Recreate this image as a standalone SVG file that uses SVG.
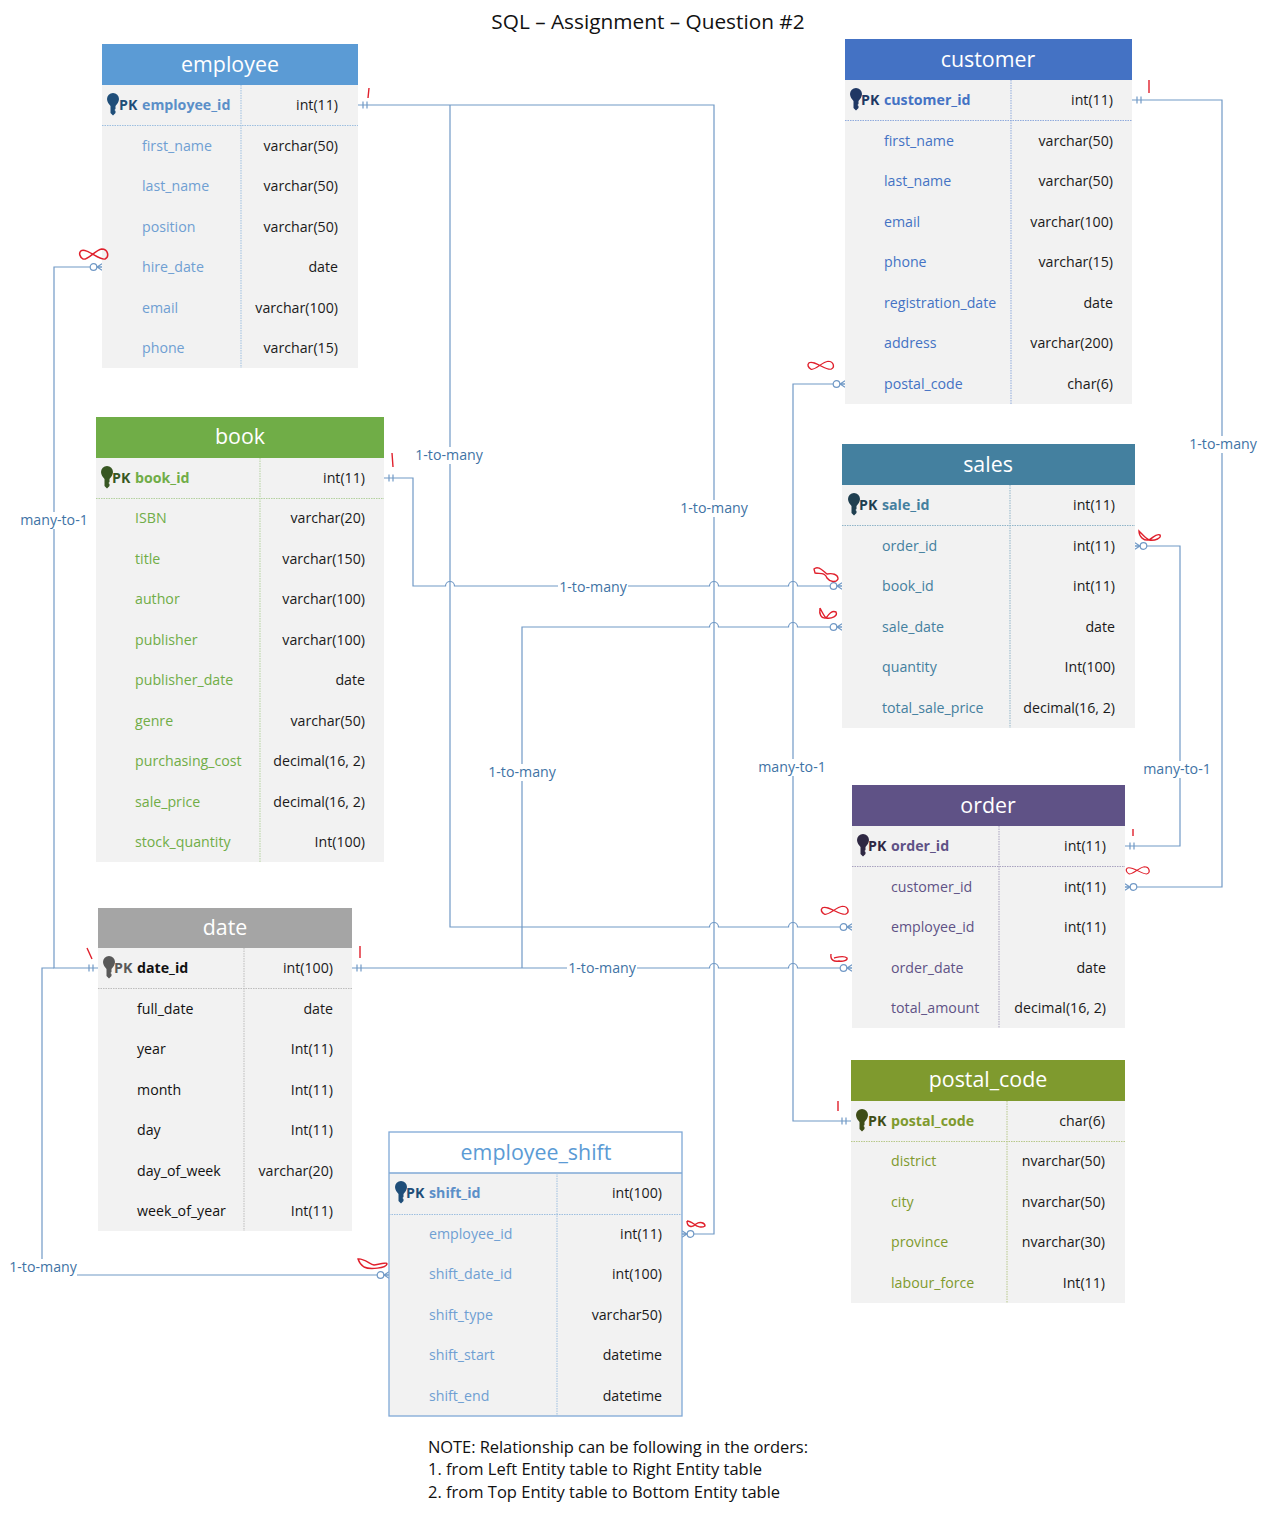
<svg xmlns="http://www.w3.org/2000/svg" xmlns:xlink="http://www.w3.org/1999/xlink" width="1265" height="1513" viewBox="0 0 1265 1513">
<style>
text{font-family:"Open Sans","Noto Sans","Liberation Sans",sans-serif;font-size:14.2px;fill:#1a1a1a}
.bg{fill:#f2f2f2}
.h{font-size:21.4px;fill:#fff;text-anchor:middle}
.t{text-anchor:end}
.b{font-weight:700}
.d{stroke-width:1;stroke-dasharray:1.5 1;fill:none}
.c{fill:none;stroke:#7199c6;stroke-width:1.2}
.lb{fill:#fff}
.lbl{fill:#3f73a5;font-size:14.2px;text-anchor:middle}
.r{fill:none;stroke:#e0202c;stroke-width:1.4;vector-effect:non-scaling-stroke}
.big{font-size:20.8px;fill:#111}
.note{font-size:16.5px;fill:#111}
#employee .n,#employee_shift .n{fill:#6f9fd2}
#employee .p,#employee_shift .p{fill:#5b8fc8}
#employee .k,#employee_shift .k{fill:#1f4e79}
#employee .d,#employee_shift .d{stroke:#9dbfe0}
#customer .n,#customer .p{fill:#4472c4}
#customer .k{fill:#203864}
#customer .d{stroke:#8faadc}
#sales .n,#sales .p{fill:#44809f}
#sales .k{fill:#1f3f50}
#sales .d{stroke:#8fb4c8}
#order .n,#order .p{fill:#5f5286}
#order .k{fill:#2f2843}
#order .d{stroke:#a8a2bf}
#postal_code .n,#postal_code .p{fill:#7f9a2e}
#postal_code .k{fill:#3f4d17}
#postal_code .d{stroke:#b8c88a}
#book .n,#book .p{fill:#70ad47}
#book .k{fill:#385723}
#book .d{stroke:#b3d19e}
#date .n,#date .p{fill:#111}
#date .k{fill:#595959}
#date .d{stroke:#bdbdbd}
</style>
<defs>
<path id="key" d="M-6-5A6 6 0 0 1 6-5C6-2 4 0 2.5 2V5L1.5 6L2.5 7V9L0 11.5L-2.5 9V2C-4 0-6-2-6-5Z"/>
<path id="inf" d="M-12-4C-7-8 5 6 10 4C14 2 13-6 7-6C1-5-6 6-10 4C-13 2-14-2-12-4Z"/>
<marker id="one" markerUnits="userSpaceOnUse" markerWidth="14" markerHeight="10" viewBox="0 0 14 10" refX="14" refY="5" orient="auto-start-reverse">
<path d="M9 1.5V8.500M5 1.500V8.500" fill="none" stroke="#7199c6" stroke-width="1.200"/>
</marker>
<marker id="crow" markerUnits="userSpaceOnUse" markerWidth="14" markerHeight="10" viewBox="0 0 14 10" refX="14" refY="5" orient="auto-start-reverse">
<path d="M14 1.800L9 5L14 8.200M9 5H14" fill="none" stroke="#7199c6" stroke-width="1.100"/>
<circle cx="5.500" cy="5" r="3.300" fill="#fff" stroke="#7199c6" stroke-width="1.200"/>
</marker>
</defs>
<rect width="1265" height="1513" fill="#fff"/>
<text class="big" x="648" y="29" text-anchor="middle">SQL – Assignment – Question #2</text>

<g id="connectors">
<path class="c" marker-start="url(#one)" marker-end="url(#crow)" d="M358 105H714V1234H682"/>
<path class="c" d="M450 105V927H709.500A4.500 4.500 0 0 1 718.500 927H788.500A4.500 4.500 0 0 1 797.500 927H852" marker-end="url(#crow)"/>
<path class="c" marker-start="url(#one)" marker-end="url(#crow)" d="M384 478H413V586H445.500A4.500 4.500 0 0 1 454.500 586H709.500A4.500 4.500 0 0 1 718.500 586H788.500A4.500 4.500 0 0 1 797.500 586H842"/>
<path class="c" marker-start="url(#one)" marker-end="url(#crow)" d="M352 968H709.500A4.500 4.500 0 0 1 718.500 968H788.500A4.500 4.500 0 0 1 797.500 968H852"/>
<path class="c" marker-end="url(#crow)" d="M522 968V627H709.500A4.500 4.500 0 0 1 718.500 627H788.500A4.500 4.500 0 0 1 797.500 627H842"/>
<path class="c" marker-start="url(#one)" marker-end="url(#crow)" d="M1132 100H1222V887H1125"/>
<path class="c" marker-start="url(#one)" marker-end="url(#crow)" d="M1125 846H1180V546H1135"/>
<path class="c" marker-start="url(#crow)" marker-end="url(#one)" d="M845 384H793V1121H851"/>
<path class="c" marker-start="url(#one)" marker-end="url(#crow)" d="M98 968H54V267H102"/>
<path class="c" marker-end="url(#crow)" d="M54 968H42V1275H389"/>
<rect class="lb" x="414" y="447" width="70" height="17"/>
<rect class="lb" x="679" y="500" width="70" height="17"/>
<rect class="lb" x="558" y="578" width="70" height="17"/>
<rect class="lb" x="487" y="764" width="70" height="17"/>
<rect class="lb" x="567" y="960" width="70" height="17"/>
<rect class="lb" x="757" y="759" width="70" height="17"/>
<rect class="lb" x="19" y="512" width="70" height="17"/>
<rect class="lb" x="1188" y="436" width="70" height="17"/>
<rect class="lb" x="1143" y="761" width="68" height="17"/>
<rect class="lb" x="8" y="1259" width="69" height="17"/>
<text class="lbl" x="449" y="460">1-to-many</text>
<text class="lbl" x="714" y="513">1-to-many</text>
<text class="lbl" x="593" y="592">1-to-many</text>
<text class="lbl" x="522" y="777">1-to-many</text>
<text class="lbl" x="602" y="973">1-to-many</text>
<text class="lbl" x="792" y="772">many-to-1</text>
<text class="lbl" x="54" y="525">many-to-1</text>
<text class="lbl" x="1223" y="449">1-to-many</text>
<text class="lbl" x="1177" y="774">many-to-1</text>
<text class="lbl" x="43" y="1272">1-to-many</text>
</g>

<g id="employee">
<rect class="bg" x="102" y="44" width="256" height="324"/>
<rect x="102" y="44" width="256" height="41" fill="#5b9bd5"/>
<text class="h" x="230" y="72">employee</text>
<path class="d" d="M241 85V368M102 125.500H358"/>
<use href="#key" class="k" x="113" y="104"/>
<text class="b k" x="119" y="110">PK</text><text class="b p" x="142" y="110">employee_id</text><text class="t" x="338" y="110">int(11)</text>
<text class="n" x="142" y="151">first_name</text><text class="t" x="338" y="151">varchar(50)</text>
<text class="n" x="142" y="191">last_name</text><text class="t" x="338" y="191">varchar(50)</text>
<text class="n" x="142" y="232">position</text><text class="t" x="338" y="232">varchar(50)</text>
<text class="n" x="142" y="272">hire_date</text><text class="t" x="338" y="272">date</text>
<text class="n" x="142" y="313">email</text><text class="t" x="338" y="313">varchar(100)</text>
<text class="n" x="142" y="353">phone</text><text class="t" x="338" y="353">varchar(15)</text>
</g>

<g id="customer">
<rect class="bg" x="845" y="39" width="287" height="365"/>
<rect x="845" y="39" width="287" height="41" fill="#4472c4"/>
<text class="h" x="988" y="67">customer</text>
<path class="d" d="M1011 80V404M845 120.500H1132"/>
<use href="#key" class="k" x="856" y="99"/>
<text class="b k" x="861" y="105">PK</text><text class="b p" x="884" y="105">customer_id</text><text class="t" x="1113" y="105">int(11)</text>
<text class="n" x="884" y="146">first_name</text><text class="t" x="1113" y="146">varchar(50)</text>
<text class="n" x="884" y="186">last_name</text><text class="t" x="1113" y="186">varchar(50)</text>
<text class="n" x="884" y="227">email</text><text class="t" x="1113" y="227">varchar(100)</text>
<text class="n" x="884" y="267">phone</text><text class="t" x="1113" y="267">varchar(15)</text>
<text class="n" x="884" y="308">registration_date</text><text class="t" x="1113" y="308">date</text>
<text class="n" x="884" y="348">address</text><text class="t" x="1113" y="348">varchar(200)</text>
<text class="n" x="884" y="389">postal_code</text><text class="t" x="1113" y="389">char(6)</text>
</g>

<g id="book">
<rect class="bg" x="96" y="417" width="288" height="445"/>
<rect x="96" y="417" width="288" height="41" fill="#70ad47"/>
<text class="h" x="240" y="444">book</text>
<path class="d" d="M260 458V862M96 498.500H384"/>
<use href="#key" class="k" x="107" y="477"/>
<text class="b k" x="112" y="483">PK</text><text class="b p" x="135" y="483">book_id</text><text class="t" x="365" y="483">int(11)</text>
<text class="n" x="135" y="523">ISBN</text><text class="t" x="365" y="523">varchar(20)</text>
<text class="n" x="135" y="564">title</text><text class="t" x="365" y="564">varchar(150)</text>
<text class="n" x="135" y="604">author</text><text class="t" x="365" y="604">varchar(100)</text>
<text class="n" x="135" y="645">publisher</text><text class="t" x="365" y="645">varchar(100)</text>
<text class="n" x="135" y="685">publisher_date</text><text class="t" x="365" y="685">date</text>
<text class="n" x="135" y="726">genre</text><text class="t" x="365" y="726">varchar(50)</text>
<text class="n" x="135" y="766">purchasing_cost</text><text class="t" x="365" y="766">decimal(16, 2)</text>
<text class="n" x="135" y="807">sale_price</text><text class="t" x="365" y="807">decimal(16, 2)</text>
<text class="n" x="135" y="847">stock_quantity</text><text class="t" x="365" y="847">Int(100)</text>
</g>

<g id="sales">
<rect class="bg" x="842" y="444" width="293" height="284"/>
<rect x="842" y="444" width="293" height="41" fill="#44809f"/>
<text class="h" x="988" y="472">sales</text>
<path class="d" d="M1010 485V728M842 525.500H1135"/>
<use href="#key" class="k" x="854" y="504"/>
<text class="b k" x="859" y="510">PK</text><text class="b p" x="882" y="510">sale_id</text><text class="t" x="1115" y="510">int(11)</text>
<text class="n" x="882" y="551">order_id</text><text class="t" x="1115" y="551">int(11)</text>
<text class="n" x="882" y="591">book_id</text><text class="t" x="1115" y="591">int(11)</text>
<text class="n" x="882" y="632">sale_date</text><text class="t" x="1115" y="632">date</text>
<text class="n" x="882" y="672">quantity</text><text class="t" x="1115" y="672">Int(100)</text>
<text class="n" x="882" y="713">total_sale_price</text><text class="t" x="1115" y="713">decimal(16, 2)</text>
</g>

<g id="order">
<rect class="bg" x="852" y="785" width="273" height="243"/>
<rect x="852" y="785" width="273" height="41" fill="#5f5286"/>
<text class="h" x="988" y="813">order</text>
<path class="d" d="M999 826V1028M852 866.500H1125"/>
<use href="#key" class="k" x="863" y="845"/>
<text class="b k" x="868" y="851">PK</text><text class="b p" x="891" y="851">order_id</text><text class="t" x="1106" y="851">int(11)</text>
<text class="n" x="891" y="892">customer_id</text><text class="t" x="1106" y="892">int(11)</text>
<text class="n" x="891" y="932">employee_id</text><text class="t" x="1106" y="932">int(11)</text>
<text class="n" x="891" y="973">order_date</text><text class="t" x="1106" y="973">date</text>
<text class="n" x="891" y="1013">total_amount</text><text class="t" x="1106" y="1013">decimal(16, 2)</text>
</g>

<g id="date">
<rect class="bg" x="98" y="908" width="254" height="323"/>
<rect x="98" y="908" width="254" height="40" fill="#a5a5a5"/>
<text class="h" x="225" y="935">date</text>
<path class="d" d="M244 948V1231M98 988.500H352"/>
<use href="#key" class="k" x="109" y="967"/>
<text class="b k" x="114" y="973">PK</text><text class="b p" x="137" y="973">date_id</text><text class="t" x="333" y="973">int(100)</text>
<text class="n" x="137" y="1014">full_date</text><text class="t" x="333" y="1014">date</text>
<text class="n" x="137" y="1054">year</text><text class="t" x="333" y="1054">Int(11)</text>
<text class="n" x="137" y="1095">month</text><text class="t" x="333" y="1095">Int(11)</text>
<text class="n" x="137" y="1135">day</text><text class="t" x="333" y="1135">Int(11)</text>
<text class="n" x="137" y="1176">day_of_week</text><text class="t" x="333" y="1176">varchar(20)</text>
<text class="n" x="137" y="1216">week_of_year</text><text class="t" x="333" y="1216">Int(11)</text>
</g>

<g id="postal_code">
<rect class="bg" x="851" y="1060" width="274" height="243"/>
<rect x="851" y="1060" width="274" height="41" fill="#7f9a2e"/>
<text class="h" x="988" y="1087">postal_code</text>
<path class="d" d="M1007 1101V1303M851 1141.500H1125"/>
<use href="#key" class="k" x="862" y="1120"/>
<text class="b k" x="868" y="1126">PK</text><text class="b p" x="891" y="1126">postal_code</text><text class="t" x="1105" y="1126">char(6)</text>
<text class="n" x="891" y="1166">district</text><text class="t" x="1105" y="1166">nvarchar(50)</text>
<text class="n" x="891" y="1207">city</text><text class="t" x="1105" y="1207">nvarchar(50)</text>
<text class="n" x="891" y="1247">province</text><text class="t" x="1105" y="1247">nvarchar(30)</text>
<text class="n" x="891" y="1288">labour_force</text><text class="t" x="1105" y="1288">Int(11)</text>
</g>

<g id="employee_shift">
<rect class="bg" x="389" y="1173" width="293" height="243"/>
<rect x="389" y="1132" width="293" height="284" fill="none" stroke="#7fa8d6" stroke-width="1.300"/>
<path d="M389 1173H682" stroke="#7fa8d6" stroke-width="1.300"/>
<text class="h" x="536" y="1160" style="fill:#5b9bd5">employee_shift</text>
<path class="d" d="M557 1173V1416M389 1214.500H682"/>
<use href="#key" class="k" x="401" y="1192"/>
<text class="b k" x="406" y="1198">PK</text><text class="b p" x="429" y="1198">shift_id</text><text class="t" x="662" y="1198">int(100)</text>
<text class="n" x="429" y="1239">employee_id</text><text class="t" x="662" y="1239">int(11)</text>
<text class="n" x="429" y="1279">shift_date_id</text><text class="t" x="662" y="1279">int(100)</text>
<text class="n" x="429" y="1320">shift_type</text><text class="t" x="662" y="1320">varchar50)</text>
<text class="n" x="429" y="1360">shift_start</text><text class="t" x="662" y="1360">datetime</text>
<text class="n" x="429" y="1401">shift_end</text><text class="t" x="662" y="1401">datetime</text>
</g>

<g id="marks">
<path class="r" d="M369 88L368 98M392 453L393 467M1149 80V93M1133 829V836M87 948L92 959M360 946V958M838 1101V1111"/>
<use href="#inf" class="r" transform="translate(94 255) scale(1.100 1)"/>
<use href="#inf" class="r" transform="translate(821 366) scale(1 .8)"/>
<path class="r" d="M1139 531C1139 537 1144 541 1149 540C1153 538 1156 533 1160 535C1162 538 1155 541 1149 540C1145 538 1142 534 1139 531Z"/>
<path class="r" d="M814 569C818 565 823 571 827 574C832 573 838 574 838 579C836 583 830 582 827 578C825 572 820 574 815 573Z"/>
<path class="r" d="M820 608C819 614 821 619 826 618C829 614 832 610 836 612C838 616 832 619 826 618C824 616 822 612 820 608"/>
<use href="#inf" class="r" transform="translate(835 911) scale(1.050 .8)"/>
<path class="r" d="M831 954C830 960 834 962 839 961C843 962 848 960 847 958C844 955 838 957 834 958"/>
<use href="#inf" class="r" transform="translate(1138 871) scale(.9 .7)"/>
<path class="r" d="M687 1221C687 1227 692 1228 696 1224C700 1221 705 1223 705 1226C702 1228 697 1227 694 1224C691 1222 689 1221 687 1221"/>
<path class="r" d="M358 1259C363 1258 370 1264 374 1265C380 1264 387 1262 387 1264C386 1268 370 1270 364 1267C361 1265 359 1262 358 1259Z"/>
</g>

<text class="note" x="428" y="1453" textLength="380" lengthAdjust="spacing">NOTE: Relationship can be following in the orders:</text>
<text class="note" x="428" y="1475">1. from Left Entity table to Right Entity table</text>
<text class="note" x="428" y="1498">2. from Top Entity table to Bottom Entity table</text>
</svg>
